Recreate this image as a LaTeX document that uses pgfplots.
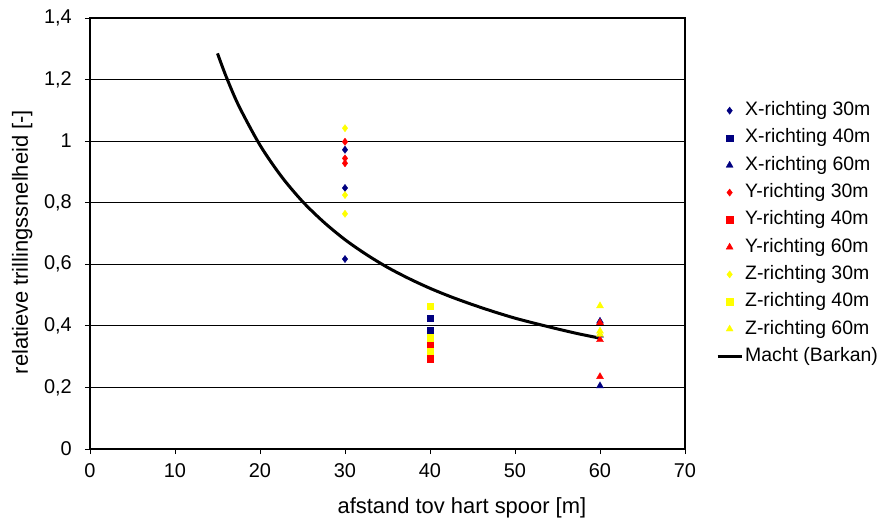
\documentclass[border=0pt]{standalone}
\usepackage{pgfplots}
\pgfplotsset{compat=1.18}
\usepackage{fontspec}
\setmainfont{Liberation Sans}
\definecolor{xnavy}{RGB}{0,0,128}
\definecolor{yred}{RGB}{255,0,0}
\definecolor{zyel}{RGB}{255,255,0}
\pgfplotsset{
  scatleg/.style={legend image code/.code={\draw[mark repeat=2,mark phase=2] plot coordinates {(0bp,0bp) (12bp,0bp) (24bp,0bp)};}},
}
\begin{document}
\begin{tikzpicture}
\useasboundingbox (-90bp,-81bp) rectangle (792bp,449bp);
\begin{axis}[
  scale only axis,
  width=595bp, height=431bp,
  xmin=0, xmax=70, ymin=0, ymax=1.4,
  xtick={0,10,...,70},
  ytick={0,0.2,...,1.4},
  /pgf/number format/use comma,
  /pgf/number format/assume math mode=true,
  tick align=outside,
  major tick length=5bp,
  xtick pos=bottom, ytick pos=left,
  tick style={black, line width=0.8bp},
  ymajorgrids,
  grid style={black, line width=0.8bp},
  axis line style={black, line width=1.5bp},
  ticklabel style={font=\fontsize{20}{23}\selectfont},
  label style={font=\fontsize{22}{25}\selectfont},
  yticklabel style={inner sep=0pt, xshift=-13bp},
  xticklabel style={inner sep=0pt, yshift=-9bp},
  xlabel={afstand tov hart spoor [m]},
  ylabel={relatieve trillingssnelheid [-]},
  xlabel style={at={(rel axis cs:0.625,-0.137)}, anchor=center},
  ylabel style={at={(rel axis cs:-0.114,0.48)}, anchor=center},
  legend cell align=left,
  legend style={draw=none, fill=none, inner sep=0pt,
    at={(rel axis cs:1.052,0.5)}, anchor=west,
    font=\fontsize{19.5}{22}\selectfont,
    row sep=9.3bp,
    nodes={inner xsep=2bp, inner ysep=0bp, text height=14bp, text depth=4bp}},
]
\addplot[only marks, scatleg, mark=diamond*, mark size=3.6bp, color=xnavy] coordinates {(30,0.972) (30,0.848) (30,0.617)};
\addlegendentry{X-richting 30m}
\addplot[only marks, scatleg, mark=square*, mark size=3.2bp, color=xnavy] coordinates {(40,0.424) (40,0.386)};
\addlegendentry{X-richting 40m}
\addplot[only marks, scatleg, mark=triangle*, mark size=4bp, color=xnavy] coordinates {(60,0.415) (60,0.370) (60,0.205)};
\addlegendentry{X-richting 60m}
\addplot[only marks, scatleg, mark=diamond*, mark size=3.6bp, color=yred] coordinates {(30,0.998) (30,0.944) (30,0.928)};
\addlegendentry{Y-richting 30m}
\addplot[only marks, scatleg, mark=square*, mark size=3.2bp, color=yred] coordinates {(40,0.340) (40,0.293)};
\addlegendentry{Y-richting 40m}
\addplot[only marks, scatleg, mark=triangle*, mark size=4bp, color=yred] coordinates {(60,0.410) (60,0.355) (60,0.235)};
\addlegendentry{Y-richting 60m}
\addplot[only marks, scatleg, mark=diamond*, mark size=3.6bp, color=zyel] coordinates {(30,1.042) (30,0.825) (30,0.764)};
\addlegendentry{Z-richting 30m}
\addplot[only marks, scatleg, mark=square*, mark size=3.2bp, color=zyel] coordinates {(40,0.464) (40,0.361) (40,0.317)};
\addlegendentry{Z-richting 40m}
\addplot[only marks, scatleg, mark=triangle*, mark size=4bp, color=zyel] coordinates {(60,0.465) (60,0.383) (60,0.372)};
\addlegendentry{Z-richting 60m}
\addplot[black, line width=3bp, smooth, no marks, legend image code/.code={\draw[line width=3bp] (0bp,0bp) -- (24bp,0bp);}] coordinates {
(15,1.285) (16,1.211) (17.5,1.115) (20,0.987) (22.5,0.886) (25,0.804) (27.5,0.737) (30,0.680) (32.5,0.632) (35,0.590) (37.5,0.554) (40,0.522) (42.5,0.494) (45,0.469) (47.5,0.446) (50,0.425) (52.5,0.407) (55,0.390) (57.5,0.374) (60,0.360)};
\addlegendentry{Macht (Barkan)}
\end{axis}
\end{tikzpicture}
\end{document}
